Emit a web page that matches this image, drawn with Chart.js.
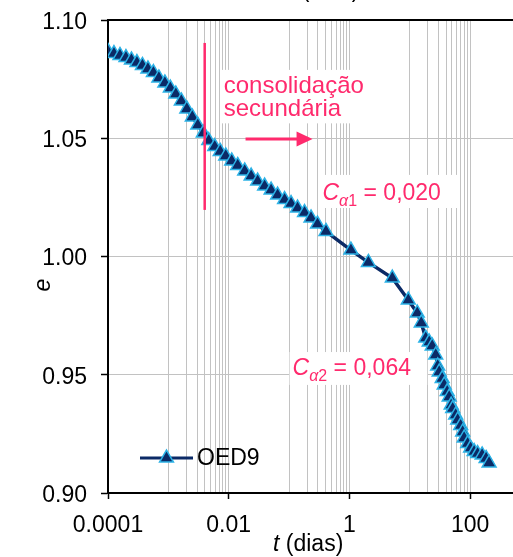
<!DOCTYPE html>
<html>
<head>
<meta charset="utf-8">
<script src="https://cdn.jsdelivr.net/npm/chart.js@4/dist/chart.umd.min.js"></script>
<style>
  html, body { margin: 0; padding: 0; overflow: hidden; background: #fff; width: 513px; height: 557px; }
  #wrap { position: absolute; left: 0; top: 0; width: 540px; height: 557px; }
</style>
</head>
<body>
<div id="wrap"><canvas id="chart" width="540" height="557"></canvas></div>
<script>
// Oedometer test OED9: void ratio e against time t (days)
const seriesName = 'OED9';

const timeDays = [
  1.00e-4, 1.256e-4, 1.579e-4, 1.984e-4, 2.445e-4, 3.015e-4, 3.717e-4, 4.584e-4, 5.652e-4, 6.966e-4,
  8.752e-4, 1.079e-3, 1.330e-3, 1.640e-3, 2.022e-3, 2.493e-3, 3.073e-3, 3.789e-3, 4.671e-3, 5.870e-3,
  7.237e-3, 8.920e-3, 0.01121, 0.01409, 0.01839, 0.02354, 0.03015, 0.03936, 0.05041, 0.06455,
  0.08426, 0.1079, 0.1382, 0.1804, 0.2310, 0.2959, 0.4089, 1.059, 2.061, 5.137,
  9.445, 13.30, 15.49, 18.39, 21.00, 23.54, 26.90, 29.02, 30.73, 34.45,
  37.17, 41.67, 44.98, 48.53, 51.37, 57.59, 62.15, 69.66, 75.16, 79.60,
  90.93, 101.9, 116.5, 133.0, 157.9, 183.9, 206.1
];

const voidRatio = [
  1.0867, 1.0858, 1.0850, 1.0841, 1.0831, 1.0820, 1.0808, 1.0793, 1.0778, 1.0755,
  1.0734, 1.0712, 1.0687, 1.0658, 1.0624, 1.0590, 1.0556, 1.0522, 1.0490, 1.0465,
  1.0444, 1.0425, 1.0404, 1.0385, 1.0362, 1.0340, 1.0319, 1.0298, 1.0281, 1.0260,
  1.0241, 1.0224, 1.0205, 1.0186, 1.0163, 1.0137, 1.0106, 1.0027, 0.9975, 0.9909,
  0.9816, 0.9761, 0.9719, 0.9655, 0.9638, 0.9622, 0.9584, 0.9537, 0.9512, 0.9484,
  0.9457, 0.9429, 0.9406, 0.9372, 0.9357, 0.9330, 0.9309, 0.9285, 0.9258, 0.9233,
  0.9209, 0.9190, 0.9175, 0.9167, 0.9161, 0.9146, 0.9127
];

// axis ticks
const xMajorTicks  = [0.0001, 0.01, 1, 100];
const xMajorLabels = ['0.0001', '0.01', '1', '100'];
const xMinorDecades = [0.001, 0.1, 10, 1000];
const xMinorMultipliers = [1, 2, 3, 4, 5, 6, 7, 8, 9];
const yTicks = [0.90, 0.95, 1.00, 1.05, 1.10];

// annotation anchors (data units: t in days, e)
const secondaryStartT = 0.004;
const secondaryLineE = [1.0903, 1.0197];
const arrowT = [0.019, 0.245];
const arrowE = 1.0497;
const secondaryLabel = ['consolidação', 'secundária'];
const secondaryLabelAt = { t: 0.00827, e: [1.0691, 1.0594] };
const secondaryBox = { t: [0.00766, 1.95], e: [1.0789, 1.0563] };
const ca1 = { sub: '1', value: '0,020', t: 0.358, e: 1.0239, box: { t: [0.3194, 60.96], e: [1.0345, 1.0205] } };
const ca2 = { sub: '2', value: '0,064', t: 0.1143, e: 0.9499, box: { t: [0.1019, 19.47], e: [0.9596, 0.9457] } };

const NAVY = '#0b2a66';
const CYAN = '#2cb2e6';
const PINK = '#ff2a6d';
const GRID = '#c2c2c2';
const FONT = '"Liberation Sans", Arial, sans-serif';
const MARKER_R = 8;

const xTickValues = [];
for (const v of xMajorTicks) xTickValues.push(v);
for (const d of xMinorDecades) for (const k of xMinorMultipliers) {
  const v = d * k;
  if (v <= 1000 + 1e-9) xTickValues.push(v);
}
xTickValues.sort((a, b) => a - b);

function majorIndex(v) {
  return xMajorTicks.findIndex(m => Math.abs(Math.log10(v) - Math.log10(m)) < 1e-6);
}

function drawRich(ctx, x, y, parts) {
  let cx = x;
  for (const p of parts) {
    ctx.font = (p.italic ? 'italic ' : '') + p.size + 'px ' + FONT;
    ctx.fillText(p.text, cx, y + (p.dy || 0));
    cx += ctx.measureText(p.text).width;
  }
}

function fillBox(ctx, xs, ys, box) {
  const x0 = xs.getPixelForValue(box.t[0]), x1 = xs.getPixelForValue(box.t[1]);
  const y0 = ys.getPixelForValue(box.e[0]), y1 = ys.getPixelForValue(box.e[1]);
  ctx.fillStyle = '#fff';
  ctx.fillRect(x0, y0, x1 - x0, y1 - y0);
}

const decorations = {
  id: 'decorations',
  beforeDatasetsDraw(chart) {
    const { ctx, scales: { x, y } } = chart;
    ctx.save();
    fillBox(ctx, x, y, secondaryBox);
    fillBox(ctx, x, y, ca1.box);
    fillBox(ctx, x, y, ca2.box);

    ctx.fillStyle = PINK;
    ctx.textBaseline = 'alphabetic';
    ctx.textAlign = 'left';
    ctx.font = '24px ' + FONT;
    const lx = x.getPixelForValue(secondaryLabelAt.t);
    secondaryLabel.forEach((s, i) => ctx.fillText(s, lx, y.getPixelForValue(secondaryLabelAt.e[i])));

    for (const c of [ca1, ca2]) {
      drawRich(ctx, x.getPixelForValue(c.t), y.getPixelForValue(c.e), [
        { text: 'C', italic: true, size: 23 },
        { text: 'α', italic: true, size: 16, dy: 6 },
        { text: c.sub, size: 16, dy: 6 },
        { text: ' = ' + c.value, size: 23 }
      ]);
    }
    ctx.restore();
  },
  afterDraw(chart) {
    const { ctx, chartArea: a, scales: { x, y } } = chart;
    ctx.save();

    // plot frame (top and right edges)
    ctx.strokeStyle = '#000';
    ctx.lineWidth = 2;
    ctx.beginPath();
    ctx.moveTo(a.left - 1, a.top);
    ctx.lineTo(a.right, a.top);
    ctx.lineTo(a.right, a.bottom);
    ctx.stroke();

    // start of secondary consolidation
    ctx.strokeStyle = PINK;
    ctx.lineWidth = 2.5;
    const vx = x.getPixelForValue(secondaryStartT);
    ctx.beginPath();
    ctx.moveTo(vx, y.getPixelForValue(secondaryLineE[0]));
    ctx.lineTo(vx, y.getPixelForValue(secondaryLineE[1]));
    ctx.stroke();

    // arrow
    const ax0 = x.getPixelForValue(arrowT[0]), ax1 = x.getPixelForValue(arrowT[1]);
    const ay = y.getPixelForValue(arrowE);
    ctx.lineWidth = 3;
    ctx.beginPath();
    ctx.moveTo(ax0, ay);
    ctx.lineTo(ax1 - 14, ay);
    ctx.stroke();
    ctx.fillStyle = PINK;
    ctx.beginPath();
    ctx.moveTo(ax1, ay);
    ctx.lineTo(ax1 - 16, ay - 7.5);
    ctx.lineTo(ax1 - 16, ay + 7.5);
    ctx.closePath();
    ctx.fill();

    // legend
    const ly = a.bottom - 35;
    const lx0 = a.left + 32, lx1 = a.left + 85;
    ctx.strokeStyle = NAVY;
    ctx.lineWidth = 3;
    ctx.beginPath();
    ctx.moveTo(lx0, ly);
    ctx.lineTo(lx1, ly);
    ctx.stroke();
    ctx.fillStyle = NAVY;
    ctx.strokeStyle = CYAN;
    ctx.lineWidth = 1.5;
    ctx.beginPath();
    const r = MARKER_R, cx = (lx0 + lx1) / 2;
    ctx.moveTo(cx, ly - r);
    ctx.lineTo(cx + r * 0.866, ly + r * 0.5);
    ctx.lineTo(cx - r * 0.866, ly + r * 0.5);
    ctx.closePath();
    ctx.fill();
    ctx.stroke();
    ctx.fillStyle = '#000';
    ctx.font = '23px ' + FONT;
    ctx.textBaseline = 'middle';
    ctx.textAlign = 'left';
    ctx.fillText(seriesName, lx1 + 4, ly + 1);

    // axis titles
    ctx.textBaseline = 'alphabetic';
    ctx.fillStyle = '#000';
    drawRich(ctx, 273, 551, [
      { text: 't', italic: true, size: 23 },
      { text: ' (dias)', size: 23 }
    ]);
    drawRich(ctx, 289, -3, [
      { text: 't', italic: true, size: 23 },
      { text: ' (dias)', size: 23 }
    ]);
    ctx.save();
    ctx.translate(50, 285);
    ctx.rotate(-Math.PI / 2);
    ctx.font = 'italic 23px ' + FONT;
    ctx.textAlign = 'center';
    ctx.fillText('e', 0, 0);
    ctx.restore();

    ctx.restore();
  }
};

new Chart(document.getElementById('chart'), {
  type: 'scatter',
  data: {
    datasets: [{
      label: seriesName,
      data: timeDays.map((t, i) => ({ x: t, y: voidRatio[i] })),
      showLine: true,
      borderColor: NAVY,
      borderWidth: 3.5,
      pointStyle: 'triangle',
      pointRadius: MARKER_R,
      pointBackgroundColor: NAVY,
      pointBorderColor: CYAN,
      pointBorderWidth: 1.5,
      tension: 0
    }]
  },
  options: {
    responsive: false,
    animation: false,
    devicePixelRatio: 1,
    layout: { padding: { top: 20, right: 8.5, left: 0, bottom: 0 } },
    plugins: { legend: { display: false }, tooltip: { enabled: false } },
    scales: {
      x: {
        type: 'logarithmic',
        min: 0.0001,
        max: 1000,
        afterBuildTicks: s => { s.ticks = xTickValues.map(v => ({ value: v, major: majorIndex(v) >= 0 })); },
        afterFit: s => { s.height = 64; s.paddingLeft = 0; s.paddingRight = 0; },
        ticks: {
          autoSkip: false,
          maxRotation: 0,
          minRotation: 0,
          padding: 13,
          color: '#000',
          font: { family: FONT, size: 23 },
          callback: v => { const i = majorIndex(v); return i >= 0 ? xMajorLabels[i] : ''; }
        },
        grid: {
          color: GRID,
          lineWidth: 1,
          tickLength: 6,
          tickColor: c => (c.tick && majorIndex(c.tick.value) >= 0) ? '#000' : 'rgba(0,0,0,0)',
          tickWidth: 1.5
        },
        border: { color: '#000', width: 2 }
      },
      y: {
        min: 0.9,
        max: 1.1,
        afterBuildTicks: s => { s.ticks = yTicks.map(v => ({ value: v })); },
        afterFit: s => { s.width = 108; s.paddingTop = 0; s.paddingBottom = 0; },
        ticks: {
          padding: 14,
          labelOffset: 2.5,
          color: '#000',
          font: { family: FONT, size: 23 },
          callback: v => Number(v).toFixed(2)
        },
        grid: { color: GRID, lineWidth: 1, tickLength: 7, tickColor: '#000', tickWidth: 1.5 },
        border: { color: '#000', width: 2 }
      }
    }
  },
  plugins: [decorations]
});
</script>
</body>
</html>
